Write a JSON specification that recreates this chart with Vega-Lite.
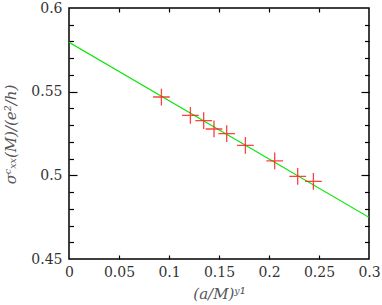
{
  "$schema": "https://vega.github.io/schema/vega-lite/v6.json",
  "width": 300,
  "height": 251,
  "autosize": {"type": "none"},
  "padding": {"left": 69, "top": 8, "right": 13, "bottom": 46},
  "background": "white",
  "config": {
    "view": {"stroke": "#000", "strokeWidth": 1.5},
    "font": "DejaVu Serif",
    "axis": {"grid": false, "domain": false, "tickColor": "#000", "tickWidth": 1.2,
      "labelFont": "DejaVu Serif", "titleFont": "DejaVu Serif"}
  },
  "datasets": {
    "points": [
      {"x": 0.0924, "y": 0.5468},
      {"x": 0.1214, "y": 0.5358},
      {"x": 0.1347, "y": 0.5327},
      {"x": 0.145, "y": 0.5277},
      {"x": 0.1577, "y": 0.5249},
      {"x": 0.1764, "y": 0.5179},
      {"x": 0.2057, "y": 0.5087},
      {"x": 0.2287, "y": 0.4994},
      {"x": 0.2444, "y": 0.4964}
    ],
    "fit": [
      {"x": 0, "y": 0.5795},
      {"x": 0.3, "y": 0.4749}
    ]
  },
  "resolve": {"axis": {"x": "independent", "y": "independent"}},
  "layer": [
    {
      "data": {"name": "fit"},
      "mark": {"type": "line", "color": "#00e600", "strokeWidth": 1.2, "clip": true},
      "encoding": {
        "x": {"field": "x", "type": "quantitative",
          "scale": {"domain": [0, 0.3], "nice": false, "zero": false},
          "axis": {"orient": "bottom", "values": [0, 0.05, 0.1, 0.15, 0.2, 0.25, 0.3], "format": "~g", "ticks": false,
            "labelPadding": 6, "labelFontSize": 14, "labelColor": "#333", "labelFlush": false,
            "title": "(a/M)ʸ¹", "titleFontStyle": "italic", "titleFontWeight": "normal",
            "titleFontSize": 15, "titleColor": "#555", "titleY": 34, "titleBaseline": "middle"}},
        "y": {"field": "y", "type": "quantitative",
          "scale": {"domain": [0.45, 0.6], "nice": false, "zero": false},
          "axis": {"orient": "left", "values": [0.45, 0.5, 0.55, 0.6], "format": "~g", "ticks": false,
            "labelPadding": 7, "labelFontSize": 14, "labelColor": "#333", "labelFlush": false,
            "title": "σᶜₓₓ(M)/(e²/h)", "titleFontStyle": "italic", "titleFontWeight": "normal",
            "titleFontSize": 15, "titleColor": "#555", "titleX": -59, "titleY": 126, "titleBaseline": "middle", "titleAngle": -90}}
      }
    },
    {
      "data": {"name": "points"},
      "mark": {"type": "point", "shape": "M-1,0H1M0,-1V1", "filled": false, "stroke": "#ff2020", "strokeWidth": 1.3, "opacity": 0.85, "size": 280},
      "encoding": {
        "x": {"field": "x", "type": "quantitative",
          "scale": {"domain": [0, 0.3], "nice": false, "zero": false},
          "axis": {"orient": "bottom", "values": [0.05, 0.1, 0.15, 0.2, 0.25], "labels": false, "tickSize": -4, "title": null}},
        "y": {"field": "y", "type": "quantitative",
          "scale": {"domain": [0.45, 0.6], "nice": false, "zero": false},
          "axis": {"orient": "left", "values": [0.5, 0.55], "labels": false, "tickSize": -8, "title": null}}
      }
    },
    {
      "data": {"name": "fit"},
      "mark": {"type": "point", "opacity": 0},
      "encoding": {
        "x": {"field": "x", "type": "quantitative",
          "scale": {"domain": [0, 0.3], "nice": false, "zero": false},
          "axis": {"orient": "top", "values": [0.05, 0.1, 0.15, 0.2, 0.25], "labels": false, "tickSize": -4, "title": null}},
        "y": {"field": "y", "type": "quantitative",
          "scale": {"domain": [0.45, 0.6], "nice": false, "zero": false},
          "axis": {"orient": "right", "values": [0.5, 0.55], "labels": false, "tickSize": -8, "title": null}}
      }
    },
    {
      "data": {"name": "fit"},
      "mark": {"type": "point", "opacity": 0},
      "encoding": {
        "x": {"field": "x", "type": "quantitative", "scale": {"domain": [0, 0.3], "nice": false, "zero": false}, "axis": null},
        "y": {"field": "y", "type": "quantitative",
          "scale": {"domain": [0.45, 0.6], "nice": false, "zero": false},
          "axis": {"orient": "left", "values": [0.46, 0.47, 0.48, 0.49, 0.51, 0.52, 0.53, 0.54, 0.56, 0.57, 0.58, 0.59], "labels": false, "tickSize": -4.5, "title": null}}
      }
    },
    {
      "data": {"name": "fit"},
      "mark": {"type": "point", "opacity": 0},
      "encoding": {
        "x": {"field": "x", "type": "quantitative", "scale": {"domain": [0, 0.3], "nice": false, "zero": false}, "axis": null},
        "y": {"field": "y", "type": "quantitative",
          "scale": {"domain": [0.45, 0.6], "nice": false, "zero": false},
          "axis": {"orient": "right", "values": [0.46, 0.47, 0.48, 0.49, 0.51, 0.52, 0.53, 0.54, 0.56, 0.57, 0.58, 0.59], "labels": false, "tickSize": -4.5, "title": null}}
      }
    }
  ]
}
